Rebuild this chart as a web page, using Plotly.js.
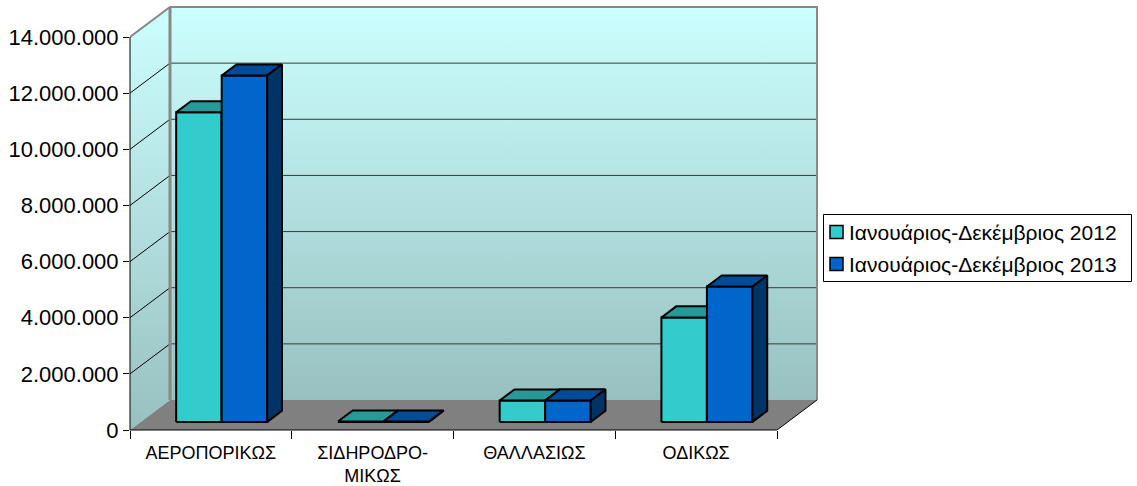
<!DOCTYPE html>
<html><head><meta charset="utf-8">
<script src="https://cdn.plot.ly/plotly-3.0.1.min.js"></script>
<style>html,body{margin:0;padding:0;background:#fff}#chart{width:1137px;height:486px}</style>
</head><body><div id="chart"></div>
<script>
// ---- data ----
const categories = ['ΑΕΡΟΠΟΡΙΚΩΣ', 'ΣΙΔΗΡΟΔΡΟ-<br>ΜΙΚΩΣ', 'ΘΑΛΛΑΣΙΩΣ', 'ΟΔΙΚΩΣ'];
const seriesNames = ['Ιανουάριος-Δεκέμβριος 2012', 'Ιανουάριος-Δεκέμβριος 2013'];
const values2012 = [11030000, 15000, 760000, 3720000];
const values2013 = [12340000, 12000, 765000, 4820000];
const yTickValues = [0, 2000000, 4000000, 6000000, 8000000, 10000000, 12000000, 14000000];

// ---- geometry / style constants ----
const Y_MAX = 14000000;
const PX_PER_CAT = 161.75;
const PX_PER_UNIT = 393 / Y_MAX;
const DX = 40 / PX_PER_CAT;       // wall depth in category units
const DY = 30 / PX_PER_UNIT;      // wall depth in value units
const T0 = 0.27, TD = 0.37;       // bar front depth fraction, bar depth fraction
const BAR_W = 45.5 / PX_PER_CAT;
const Y_TOP = 425 / PX_PER_UNIT;
const X_LEFT = -0.5, X_RIGHT = 3.5, X_MAXR = 3.5 + 43 / PX_PER_CAT;
const PLOT_L = 130, PLOT_W = 690, PLOT_B = 430, PLOT_H = 425;
const px = x => (x - PLOT_L) / PLOT_W;
const py = y => (PLOT_B - y) / PLOT_H;

const faceColors = [
  {front: '#33CCCC', top: '#269999', side: '#1A6666'},
  {front: '#0066CC', top: '#004C99', side: '#003366'}
];
const seriesValues = [values2012, values2013];

const traces = [];
function poly(xs, ys, fill, lineColor, lineWidth, extra) {
  const t = {
    type: 'scatter', mode: 'lines', x: xs.concat([xs[0]]), y: ys.concat([ys[0]]),
    fill: 'toself', fillcolor: fill, hoverinfo: 'skip', showlegend: false,
    line: {color: lineColor || 'rgba(0,0,0,0)', width: lineWidth || 0}
  };
  return Object.assign(t, extra || {});
}
function lines(xs, ys, color, width) {
  return {type: 'scatter', mode: 'lines', x: xs, y: ys, hoverinfo: 'skip', showlegend: false,
          line: {color: color, width: width}};
}
const wallGradient = {type: 'vertical', colorscale: [[0, '#98C0C0'], [1, '#CCFFFF']]};

// side wall
traces.push(poly([X_LEFT, X_LEFT, X_LEFT + DX, X_LEFT + DX], [0, Y_MAX, Y_MAX + DY, DY], '#B0E0E0', null, 0,
  {fillgradient: Object.assign({start: 0, stop: Y_MAX + DY}, wallGradient)}));
// back wall
traces.push(poly([X_LEFT + DX, X_RIGHT + DX, X_RIGHT + DX, X_LEFT + DX], [DY, DY, Y_MAX + DY, Y_MAX + DY], '#B0E0E0', null, 0,
  {fillgradient: Object.assign({start: DY, stop: Y_MAX + DY}, wallGradient)}));
// floor
traces.push(poly([X_LEFT, X_RIGHT, X_RIGHT + DX, X_LEFT + DX], [0, 0, DY, DY], '#808080', null, 0));

// gridlines
const gx = [], gy = [], sx = [], sy = [];
yTickValues.forEach(v => {
  if (v === 0 || v === Y_MAX) return;
  gx.push(X_LEFT + DX, X_RIGHT + DX, null); gy.push(v + DY, v + DY, null);
  sx.push(X_LEFT, X_LEFT + DX, null); sy.push(v, v + DY, null);
});
traces.push(lines(gx, gy, '#3a3a3a', 1));
traces.push(lines(sx, sy, '#000000', 1));
// wall frame
traces.push(lines([X_LEFT + DX, X_LEFT + DX], [DY, Y_MAX + DY], '#888888', 3));
traces.push(lines([X_LEFT, X_LEFT + DX, X_RIGHT + DX, X_RIGHT + DX], [Y_MAX, Y_MAX + DY, Y_MAX + DY, DY], '#888888', 2));
// floor right edge
traces.push(lines([X_RIGHT, X_RIGHT + DX], [0, DY], '#000000', 1));

// bars
const base = T0 * DY, bdx = TD * DX, bdy = TD * DY;
categories.forEach((c, i) => {
  seriesValues.forEach((vals, s) => {
    const xl = i + T0 * DX + (s === 0 ? -BAR_W : 0);
    const xr = xl + BAR_W;
    const h = base + vals[i];
    const col = faceColors[s];
    traces.push(poly([xl, xr, xr, xl], [base, base, h, h], col.front, '#000000', 2, {name: seriesNames[s]}));
    traces.push(poly([xl, xr, xr + bdx, xl + bdx], [h, h, h + bdy, h + bdy], col.top, '#000000', 2));
    traces.push(poly([xr, xr + bdx, xr + bdx, xr], [base, base + bdy, h + bdy, h], col.side, '#000000', 2));
  });
});
// dummy trace so xaxis2 (category boundary ticks) is drawn
traces.push({type: 'scatter', mode: 'lines', x: [null], y: [null], xaxis: 'x2', yaxis: 'y', showlegend: false, hoverinfo: 'skip'});

// ---- legend (drawn as real text + swatches) ----
const FONT = 'Liberation Sans, Arial, sans-serif';
const legendRows = [232, 264];
const shapes = [
  {type: 'line', layer: 'above', xref: 'x', yref: 'paper', x0: X_LEFT, x1: X_RIGHT, y0: 0, y1: 0, line: {color: '#000', width: 1}},
  {type: 'line', layer: 'above', xref: 'paper', yref: 'y', x0: 0, x1: 0, y0: 0, y1: Y_MAX, line: {color: '#000', width: 1}},
  {type: 'rect', layer: 'above', xref: 'paper', yref: 'paper', x0: px(823.5), x1: px(1131.5), y0: py(214.5), y1: py(281.5),
   fillcolor: '#ffffff', line: {color: '#000', width: 1}}
];
const annotations = [];
seriesNames.forEach((n, s) => {
  const yc = legendRows[s];
  shapes.push({type: 'rect', layer: 'above', xref: 'paper', yref: 'paper',
    x0: px(830), x1: px(843), y0: py(yc - 6.5), y1: py(yc + 6.5),
    fillcolor: faceColors[s].front, line: {color: '#000', width: 1.5}});
  annotations.push({xref: 'paper', yref: 'paper', x: px(847), y: py(yc), xanchor: 'left', yanchor: 'middle',
    text: n, showarrow: false, font: {size: 21, family: FONT, color: '#000'}});
});

const layout = {
  width: 1137, height: 486,
  margin: {l: PLOT_L, r: 1137 - PLOT_L - PLOT_W, t: 5, b: 56, pad: 0},
  paper_bgcolor: '#ffffff', plot_bgcolor: 'rgba(0,0,0,0)',
  separators: ',.',
  font: {family: FONT, color: '#000'},
  showlegend: false,
  xaxis: {
    range: [X_LEFT, X_MAXR], showgrid: false, zeroline: false, showline: false, fixedrange: true,
    tickmode: 'array', tickvals: [0, 1, 2, 3], ticktext: categories,
    ticks: 'outside', ticklen: 6, tickcolor: 'rgba(0,0,0,0)',
    tickfont: {size: 18, family: FONT, color: '#000'}
  },
  xaxis2: {
    overlaying: 'x', anchor: 'y', side: 'bottom', range: [X_LEFT, X_MAXR], showgrid: false, zeroline: false,
    showline: false, tickmode: 'array', tickvals: [-0.5, 0.5, 1.5, 2.5, 3.5], showticklabels: false,
    ticks: 'outside', ticklen: 8, tickwidth: 1, tickcolor: '#000'
  },
  yaxis: {
    range: [0, Y_TOP], showgrid: false, zeroline: false, showline: false, fixedrange: true,
    tickmode: 'array', tickvals: yTickValues, tickformat: ',d',
    ticks: 'outside', ticklen: 6, tickwidth: 1, tickcolor: '#000',
    tickfont: {size: 22, family: FONT, color: '#000'}
  },
  shapes: shapes,
  annotations: annotations
};

Plotly.newPlot('chart', traces, layout, {displayModeBar: false, staticPlot: true});
</script>
</body></html>
